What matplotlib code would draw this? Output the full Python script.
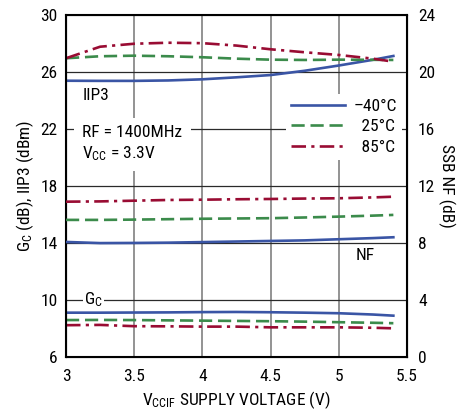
import matplotlib
matplotlib.use('Agg')
import matplotlib.pyplot as plt
from matplotlib import font_manager

# pick a narrow sans if one is around
names = {f.name for f in font_manager.fontManager.ttflist}
if 'Liberation Sans Narrow' in names:
    fam, fs = 'Liberation Sans Narrow', 13
elif 'Roboto Condensed' in names:
    fam, fs = 'Roboto Condensed', 12.5
else:
    fam, fs = 'Liberation Sans', 12

plt.rcParams['font.family'] = [fam, 'DejaVu Sans']
plt.rcParams['font.size'] = fs
plt.rcParams['mathtext.default'] = 'regular'

# supply voltage (V)
vcc = [3.0, 3.25, 3.5, 3.75, 4.0, 4.25, 4.5, 4.75, 5.0, 5.25, 5.4]

# IIP3 (dBm), left axis
iip3_m40 = [25.38, 25.37, 25.37, 25.40, 25.48, 25.62, 25.78, 26.08, 26.45, 26.85, 27.12]
iip3_25 = [26.96, 27.10, 27.14, 27.10, 27.03, 26.93, 26.86, 26.84, 26.86, 26.85, 26.84]
iip3_85 = [26.96, 27.77, 27.98, 28.05, 28.02, 27.85, 27.59, 27.38, 27.19, 26.93, 26.72]

# conversion gain (dB), left axis
gc_m40 = [9.08, 9.08, 9.09, 9.10, 9.12, 9.13, 9.11, 9.08, 9.04, 8.95, 8.87]
gc_25 = [8.56, 8.57, 8.56, 8.54, 8.52, 8.50, 8.48, 8.45, 8.41, 8.37, 8.34]
gc_85 = [8.20, 8.22, 8.13, 8.12, 8.10, 8.10, 8.05, 8.05, 8.05, 8.02, 7.98]

# SSB noise figure (dB), right axis
nf_m40 = [8.05, 7.97, 7.98, 8.00, 8.04, 8.08, 8.12, 8.16, 8.24, 8.32, 8.38]
nf_25 = [9.60, 9.60, 9.62, 9.65, 9.68, 9.70, 9.72, 9.77, 9.83, 9.90, 9.95]
nf_85 = [10.88, 10.90, 10.95, 11.00, 11.02, 11.05, 11.07, 11.10, 11.12, 11.18, 11.23]

# figure space keeps the legend labels right-aligned
temps = ['\u201340\u00b0C', '\u200725\u00b0C', '\u200785\u00b0C']
colors = ['#3a55a5', '#3b8b4b', '#990c33']
styles = [dict(ls='-'), dict(dashes=(5, 2.2)), dict(dashes=(5.5, 2, 1.2, 2))]
lw = 1.9

fig = plt.figure(figsize=(4.57, 4.13), dpi=100)
ax = fig.add_axes([0.1444, 0.1368, 0.7462, 0.8269])
ax2 = ax.twinx()

ax.set_xlim(3, 5.5)
ax.set_ylim(6, 30)
ax2.set_ylim(0, 24)
ax.set_xticks([3, 3.5, 4, 4.5, 5, 5.5])
ax.set_xticklabels(['3', '3.5', '4', '4.5', '5', '5.5'])
ax.set_yticks([6, 10, 14, 18, 22, 26, 30])
ax2.set_yticks([0, 4, 8, 12, 16, 20, 24])

for v in [3.5, 4, 4.5, 5]:
    ax.axvline(v, color='#8a8a8a', lw=1.3, zorder=0.5)
for h in [10, 14, 18, 22, 26]:
    ax.axhline(h, color='#2a2a2a', lw=0.9, zorder=0.5)

for s in ax.spines.values():
    s.set_linewidth(1.5)
ax.tick_params(length=0, pad=6)
ax.tick_params(axis='x', pad=9)
ax2.tick_params(length=0, pad=8)

handles = []
for y, c, st, t in zip([iip3_m40, iip3_25, iip3_85], colors, styles, temps):
    ln, = ax.plot(vcc, y, color=c, lw=lw, label=t, zorder=3, **st)
    handles.append(ln)
for y, c, st in zip([gc_m40, gc_25, gc_85], colors, styles):
    ax.plot(vcc, y, color=c, lw=lw, zorder=3, **st)
for y, c, st in zip([nf_m40, nf_25, nf_85], colors, styles):
    ax2.plot(vcc, y, color=c, lw=lw, zorder=3, **st)

box = dict(facecolor='white', edgecolor='none', pad=2)
ax.text(3.12, 24.35, 'IIP3', ha='left', va='center', bbox=box, zorder=2)
ax.text(3.12, 20.95, 'RF = 1400MHz\nV$_{CC}$ = 3.3V', ha='left', va='center',
        linespacing=1.3, bbox=dict(facecolor='white', edgecolor='none', pad=6), zorder=2)
ax.text(3.2, 9.97, 'G$_C$', ha='center', va='center',
        bbox=dict(facecolor='white', edgecolor='none', pad=1), zorder=2)
ax2.text(5.19, 7.1, 'NF', ha='center', va='center')

leg = ax2.legend(handles, temps, loc='upper right', bbox_to_anchor=(0.985, 0.77),
                 frameon=True, fancybox=False, edgecolor='none', framealpha=1,
                 handlelength=3.1, handletextpad=0.5, labelspacing=0.3,
                 borderpad=0.3, borderaxespad=0)

ax.set_ylabel('G$_C$ (dB), IIP3 (dBm)', labelpad=3)
ax2.set_ylabel('SSB NF (dB)', rotation=270, labelpad=14)
ax.set_xlabel('V$_{CCIF}$ SUPPLY VOLTAGE (V)', labelpad=4)

fig.savefig('out.png', dpi=100)
